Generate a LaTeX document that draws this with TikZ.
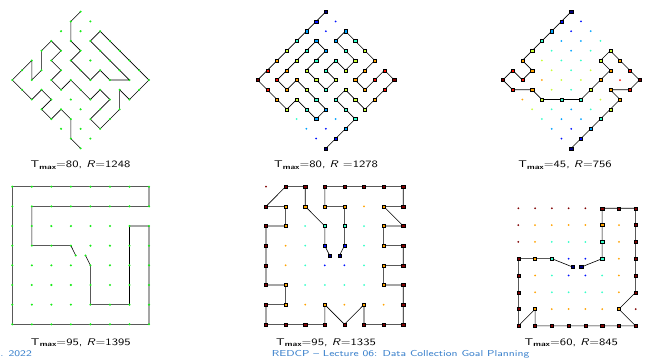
\documentclass[tikz,border=0pt]{standalone}
\usepackage{fontspec}
\definecolor{j0}{rgb}{0,0,0.5}
\definecolor{j1}{rgb}{0,0.07,1}
\definecolor{j2}{rgb}{0,0.64,1}
\definecolor{j3}{rgb}{0.21,1,0.79}
\definecolor{j4}{rgb}{0.79,1,0.21}
\definecolor{j5}{rgb}{1,0.64,0}
\definecolor{j6}{rgb}{1,0.07,0}
\definecolor{j7}{rgb}{0.5,0,0}
\definecolor{dotgreen}{rgb}{0.1,0.93,0.1}
\definecolor{footblue}{rgb}{0.22,0.5,0.8}
\newcommand\tmx{T\kern0.2pt\raisebox{-0.45ex}{\fontsize{6.8}{7}\selectfont\bfseries max}}
\newcommand\wide[1]{\scalebox{1.3}[1]{#1}}
\tikzset{
  trail/.style={draw=black, line width=0.6pt, line join=round},
  vis/.style={rectangle, draw=black, line width=0.35pt, inner sep=0pt, minimum size=3.1pt},
  lbl/.style={anchor=base, inner sep=0pt, font=\sffamily\fontsize{9.7}{11}\selectfont},
  foot/.style={inner sep=0pt, text=footblue, font=\sffamily\fontsize{8.65}{10}\selectfont},
}
\def\pathA{0/0,0/1,1/2,2/2,2/3,3/3,4/3,4/2,5/2,6/1,5/1,4/1,3/1,2/1,2/0,3/0,4/0,5/0,6/0,7/0,7/1,7/2,6/2,7/3,7/4,7/5,6/5,6/4,6/3,5/3,5/4,4/4,3/4,3/5,2/5,2/4,1/4,1/3,0/3,0/4,1/5,1/6,0/5,0/6,0/7,1/7,2/7,2/6,3/6,3/7,4/7,4/6,5/6,6/7,7/7}
\def\pathB{0/0,0/1,0/2,0/3,0/4,0/5,0/6,0/7,1/7,2/7,3/7,3/6,4/6,5/6,5/5,4/5,3/5,2/5,2/6,1/6,1/5,1/4,1/3,1/2,2/2,2/3,2/4,3/4,4/4,4/3,3/3,3/2,4/2,4/1,3/1,2/1,2/0,3/0,4/0,5/0,5/1,5/2,6/2,6/1,6/0,7/0,7/1,7/2,7/3,6/3,5/3,5/4,6/4,7/4,7/5,7/6,7/7}
\def\pathC{0/0,0/1,0/2,0/3,0/4,0/5,1/5,1/6,0/6,0/7,1/7,2/6,3/6,4/5,5/4,5/3,5/2,5/1,4/1,4/0,5/0,6/0,7/0,7/1,6/2,7/2,7/3,7/4,7/5,7/6,7/7}
\def\pathD{3/3,1/3,1/1,7/1,7/0,0/0,0/7,7/7,7/2,6/2,6/6,4/6,4/4}
\def\pathE{3/3,3/2,2/1,2/0,1/0,0/1,1/1,1/2,0/2,0/3,0/4,0/5,1/5,1/6,0/6,0/7,1/7,2/7,3/7,3/6,4/7,5/6,5/7,6/7,7/7,7/6,7/5,6/5,6/4,7/4,7/3,6/3,6/2,7/2,6/1,7/1,7/0,6/0,5/0,4/0,3/0,3/1,4/1,4/2,4/3}
\def\pathF{2/3,1/3,0/3,0/4,0/5,0/6,0/7,1/6,1/7,2/7,3/7,4/7,5/7,6/7,7/7,6/6,7/5,7/4,7/3,7/2,7/1,7/0,6/0,5/0,5/1,5/2,5/3}
\begin{document}
\begin{tikzpicture}[x=1pt,y=-1pt]
\useasboundingbox (0,0) rectangle (651,358);
\fill[white] (0,0) rectangle (651,358);
% grid coordinates
\foreach \i in {0,...,7}{\foreach \j in {0,...,7}{
  \coordinate (A-\i-\j) at ({80.6+(\i-\j)*9.76},{11.7+(\i+\j)*9.76});
  \coordinate (B-\i-\j) at ({325.9+(\i-\j)*9.76},{11.7+(\i+\j)*9.76});
  \coordinate (C-\i-\j) at ({571.2+(\i-\j)*9.76},{11.7+(\i+\j)*9.76});
  \coordinate (D-\i-\j) at ({12.3+\i*19.53},{186.7+\j*19.66});
  \coordinate (E-\i-\j) at ({266+\i*19.6},{186.7+\j*19.66});
  \coordinate (F-\i-\j) at ({518.3+\i*16.77},{208.3+\j*16.8});
}}
\coordinate (D-s-1) at ({12.3+3.25*19.53},{186.7+3.5*19.66});
\coordinate (D-s-2) at ({12.3+3.75*19.53},{186.7+3.5*19.66});
\coordinate (E-s-1) at ({266+3.25*19.6},{186.7+3.5*19.66});
\coordinate (E-s-2) at ({266+3.75*19.6},{186.7+3.5*19.66});
\coordinate (F-s-1) at ({518.3+3.25*16.77},{208.3+3.5*16.8});
\coordinate (F-s-2) at ({518.3+3.75*16.77},{208.3+3.5*16.8});
% paths
\draw[trail] (A-0-0) \foreach \i/\j in \pathA { -- (A-\i-\j) };
\draw[trail] (B-0-0) \foreach \i/\j in \pathB { -- (B-\i-\j) };
\draw[trail] (C-0-0) \foreach \i/\j in \pathC { -- (C-\i-\j) };
\draw[trail] (D-s-1) \foreach \i/\j in \pathD { -- (D-\i-\j) } -- (D-s-2);
\draw[trail] (E-s-1) \foreach \i/\j in \pathE { -- (E-\i-\j) } -- (E-s-2);
\draw[trail] (F-s-1) \foreach \i/\j in \pathF { -- (F-\i-\j) } -- (F-s-2);
% reward dots
\foreach \i in {0,...,7}{\foreach \j in {0,...,7}{
  \fill[dotgreen] (A-\i-\j) circle (1.15pt);
  \fill[dotgreen] (D-\i-\j) circle (1.15pt);
  \pgfmathtruncatemacro\lt{(\i+\j<=7) ? max(\i,\j) : 7-min(\i,\j)}
  \fill[j\lt] (B-\i-\j) circle (1pt);
  \fill[j\lt] (C-\i-\j) circle (1pt);
  \pgfmathtruncatemacro\lr{7-2*min(min(\i,\j),min(7-\i,7-\j))}
  \fill[j\lr] (E-\i-\j) circle (1pt);
  \fill[j\lr] (F-\i-\j) circle (1pt);
}}
\fill[dotgreen] (D-s-1) circle (1.15pt);
\fill[dotgreen] (D-s-2) circle (1.15pt);
% visited squares
\foreach \i/\j in \pathB {
  \pgfmathtruncatemacro\lt{(\i+\j<=7) ? max(\i,\j) : 7-min(\i,\j)}
  \node[vis, fill=j\lt] (vB-\i-\j) at (B-\i-\j) {};
}
\foreach \i/\j in \pathC {
  \pgfmathtruncatemacro\lt{(\i+\j<=7) ? max(\i,\j) : 7-min(\i,\j)}
  \node[vis, fill=j\lt] (vC-\i-\j) at (C-\i-\j) {};
}
\foreach \i/\j in \pathE {
  \pgfmathtruncatemacro\lr{7-2*min(min(\i,\j),min(7-\i,7-\j))}
  \node[vis, fill=j\lr] (vE-\i-\j) at (E-\i-\j) {};
}
\foreach \i/\j in \pathF {
  \pgfmathtruncatemacro\lr{7-2*min(min(\i,\j),min(7-\i,7-\j))}
  \node[vis, fill=j\lr] (vF-\i-\j) at (F-\i-\j) {};
}
\node[vis, fill=j0] (vE-s1) at (E-s-1) {};
\node[vis, fill=j0] (vE-s2) at (E-s-2) {};
\node[vis, fill=j0] (vF-s1) at (F-s-1) {};
\node[vis, fill=j0] (vF-s2) at (F-s-2) {};
% labels
\node[lbl] (labA) at (80.5,167.3) {\wide{\tmx=80, \textit{R}=1248}};
\node[lbl] (labB) at (326,167.3) {\wide{\tmx=80, \textit{R} =1278}};
\node[lbl] (labC) at (565,167.3) {\wide{\tmx=45, \textit{R}=756}};
\node[lbl] (labD) at (80.8,345) {\wide{\tmx=95, \textit{R}=1395}};
\node[lbl] (labE) at (326,345) {\wide{\tmx=95, \textit{R}=1335}};
\node[lbl] (labF) at (571.3,345) {\wide{\tmx=60, \textit{R}=845}};
% footer
\node[foot, anchor=base east] (footL) at (32,356.7) {\wide{. 2022}};
\node[foot, anchor=base west] (footR) at (271.7,356.7) {\wide{REDCP – Lecture 06: Data Collection Goal Planning}};
\end{tikzpicture}
\end{document}
